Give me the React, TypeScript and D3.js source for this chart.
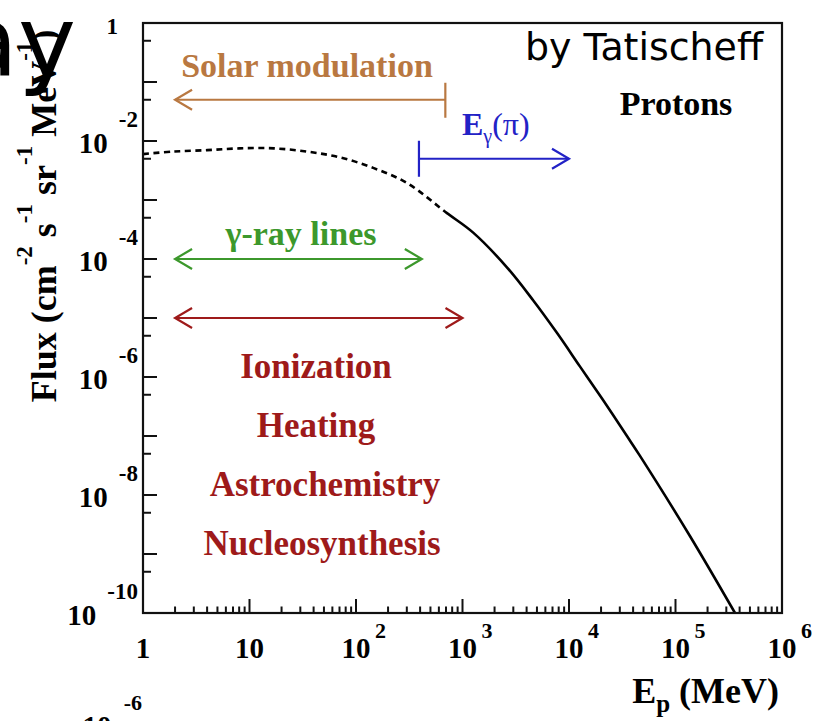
import React from "react";
import * as d3 from "d3";

// Proton flux: low-energy extrapolation (dashed) and measured part (solid)
const lowEnergy = [1, 1.9, 4, 8, 17, 35, 70, 145, 300, 715];
const lowFlux = [6.0e-3, 6.6e-3, 7.0e-3, 7.5e-3, 7.5e-3, 6.6e-3, 5.3e-3, 3.5e-3, 1.95e-3, 6.0e-4];
const highEnergy = [715, 1260, 2600, 4600, 7700, 12700, 20800, 35000, 46400, 137000, 362000];
const highFlux = [6.0e-4, 2.8e-4, 7.3e-5, 2.0e-5, 5.6e-6, 1.5e-6, 4.1e-7, 1.0e-7, 4.6e-8, 2.0e-9, 1.0e-10];

// Axis decades
const xExponents = [0, 1, 2, 3, 4, 5, 6];
const yExponents = [0, -1, -2, -3, -4, -5, -6, -7, -8, -9, -10];

// Energy ranges of the processes (MeV) and the flux level each arrow sits at
const solarRange = [2, 690];
const solarLevel = 5e-2;
const pionRange = [390, 1.0e4];
const pionLevel = 5e-3;
const linesRange = [2, 415];
const linesLevel = 1e-4;
const ionRange = [2, 1000];
const ionLevel = 1e-5;

const processLabels = ["Ionization", "Heating", "Astrochemistry", "Nucleosynthesis"];
const processLevels = [1e-6, 1e-7, 1e-8, 1e-9];
const processCenters = [316, 316, 325, 322];

const W = 817;
const H = 721;
const left = 143;
const right = 782;
const top = 23;
const bottom = 613;

const SERIF = "'Liberation Serif', 'Times New Roman', serif";
const SANS = "'Comic Sans MS', 'DejaVu Sans', sans-serif";

const BROWN = "#b97841";
const BLUE = "#2222c6";
const GREEN = "#3c982c";
const DARKRED = "#9e1a1a";

const xScale = d3.scaleLog().domain([1, 1e6]).range([left, right]);
const yScale = d3.scaleLog().domain([1e-10, 1]).range([bottom, top]);

const line = d3
  .line<[number, number]>()
  .x((d) => xScale(d[0]))
  .y((d) => yScale(d[1]))
  .curve(d3.curveCatmullRom.alpha(0.5));

function Chevron({ x, y, dir, color }: { x: number; y: number; dir: number; color: string }) {
  const bx = x - dir * 17;
  return (
    <path
      d={`M${bx},${y - 10}L${x},${y}L${bx},${y + 10}`}
      fill="none"
      stroke={color}
      strokeWidth={2.2}
    />
  );
}

export default function App() {
  // one smooth path through both parts; clipped into dashed / solid pieces
  const allPts = [
    ...lowEnergy.map((e, i) => [e, lowFlux[i]] as [number, number]),
    ...highEnergy.slice(1).map((e, i) => [e, highFlux[i + 1]] as [number, number]),
  ];
  const splitX = xScale(highEnergy[0]);
  const curveD = line(allPts) || "";

  const xMinor: number[] = [];
  for (let k = 0; k < 6; k++) {
    for (let m = 2; m <= 9; m++) xMinor.push(m * Math.pow(10, k));
  }
  const yMinor = yExponents.slice(1).map((k) => 5 * Math.pow(10, k));

  const sy = yScale(solarLevel);
  const py = yScale(pionLevel);
  const gy = yScale(linesLevel);
  const ry = yScale(ionLevel);

  return (
    <svg
      width={W}
      height={H}
      viewBox={`0 0 ${W} ${H}`}
      style={{ position: "absolute", left: 0, top: 0, background: "#fff" }}
    >
      <defs>
        <clipPath id="clip-extrap">
          <rect x={0} y={0} width={splitX} height={H} />
        </clipPath>
        <clipPath id="clip-measured">
          <rect x={splitX} y={0} width={W - splitX} height={bottom} />
        </clipPath>
      </defs>
      <rect x={0} y={0} width={W} height={H} fill="#fff" />

      {/* curve */}
      <path d={curveD} clipPath="url(#clip-extrap)" fill="none" stroke="#000" strokeWidth={2.6} strokeDasharray="6 4.5" />
      <path d={curveD} clipPath="url(#clip-measured)" fill="none" stroke="#000" strokeWidth={2.6} />

      {/* frame */}
      <rect x={left} y={top} width={right - left} height={bottom - top} fill="none" stroke="#111" strokeWidth={2.2} />

      {/* x ticks */}
      {xExponents.map((k) => (
        <line key={`xM${k}`} x1={xScale(Math.pow(10, k))} x2={xScale(Math.pow(10, k))} y1={bottom} y2={bottom - 14} stroke="#111" strokeWidth={2} />
      ))}
      {xMinor.map((v) => (
        <line key={`xm${v}`} x1={xScale(v)} x2={xScale(v)} y1={bottom} y2={bottom - 6.5} stroke="#111" strokeWidth={2} />
      ))}

      {/* y ticks */}
      {yExponents.map((k) => (
        <line key={`yM${k}`} x1={left} x2={left + 14} y1={yScale(Math.pow(10, k))} y2={yScale(Math.pow(10, k))} stroke="#111" strokeWidth={2} />
      ))}
      {yMinor.map((v) => (
        <line key={`ym${v}`} x1={left} x2={left + 8} y1={yScale(v)} y2={yScale(v)} stroke="#111" strokeWidth={2} />
      ))}

      {/* x tick labels */}
      <g fontFamily={SERIF} fontWeight="bold" fill="#000">
        {xExponents.map((k) => {
          const x = xScale(Math.pow(10, k));
          if (k === 0)
            return (
              <text key={`xl${k}`} x={x} y={658} fontSize={29} textAnchor="middle">1</text>
            );
          if (k === 1)
            return (
              <text key={`xl${k}`} x={x} y={658} fontSize={29} textAnchor="middle">10</text>
            );
          return (
            <g key={`xl${k}`}>
              <text x={x} y={658} fontSize={29} textAnchor="middle">10</text>
              <text x={x + 19} y={638} fontSize={22}>{k}</text>
            </g>
          );
        })}
      </g>

      {/* y tick labels */}
      <g fontFamily={SERIF} fontWeight="bold" fill="#000">
        {yExponents.filter((k) => k % 2 === 0).map((k) => {
          const y = yScale(Math.pow(10, k));
          if (k === 0)
            return (
              <text key={`yl${k}`} x={118} y={34} fontSize={23} textAnchor="end">1</text>
            );
          return (
            <text key={`yl${k}`} x={138} y={y + 12} fontSize={29} textAnchor="end">
              10
              <tspan dx={11} dy={-26} fontSize={23}>{`-${-k}`}</tspan>
            </text>
          );
        })}
      </g>

      {/* axis titles */}
      <text
        transform="translate(56, 216) rotate(-90)"
        textAnchor="middle"
        fontFamily={SERIF}
        fontWeight="bold"
        fontSize={36}
        fill="#000"
      >
        Flux (cm
        <tspan dy={-24} fontSize={23}>-2</tspan>
        <tspan dy={24}> s</tspan>
        <tspan dy={-24} fontSize={23}>-1</tspan>
        <tspan dy={24}> sr</tspan>
        <tspan dy={-24} fontSize={23}>-1</tspan>
        <tspan dy={24}> MeV</tspan>
        <tspan dy={-24} fontSize={23}>-1</tspan>
        <tspan dy={24}>)</tspan>
      </text>
      <text x={779} y={703} textAnchor="end" fontFamily={SERIF} fontWeight="bold" fontSize={36} fill="#000">
        E
        <tspan dy={9} fontSize={25}>p</tspan>
        <tspan dy={-9}> (MeV)</tspan>
      </text>

      {/* solar modulation */}
      <text x={307} y={77} textAnchor="middle" fontFamily={SERIF} fontWeight="bold" fontSize={34} fill={BROWN}>
        Solar modulation
      </text>
      <line x1={xScale(solarRange[0])} x2={xScale(solarRange[1])} y1={sy} y2={sy} stroke={BROWN} strokeWidth={2.2} />
      <line x1={xScale(solarRange[1])} x2={xScale(solarRange[1])} y1={sy - 17} y2={sy + 18} stroke={BROWN} strokeWidth={2.2} />
      <Chevron x={xScale(solarRange[0])} y={sy} dir={-1} color={BROWN} />

      {/* pion gamma rays */}
      <text x={462} y={135} fontFamily={SERIF} fontWeight="bold" fontSize={32} fill={BLUE}>
        E
        <tspan dy={8} fontSize={20} fontWeight="normal">γ</tspan>
        <tspan dy={-8} fontWeight="normal">(π)</tspan>
      </text>
      <line x1={xScale(pionRange[0])} x2={xScale(pionRange[1])} y1={py} y2={py} stroke={BLUE} strokeWidth={2.2} />
      <line x1={xScale(pionRange[0])} x2={xScale(pionRange[0])} y1={py - 18} y2={py + 18} stroke={BLUE} strokeWidth={2.2} />
      <Chevron x={xScale(pionRange[1])} y={py} dir={1} color={BLUE} />

      {/* gamma-ray lines */}
      <text x={301} y={245} textAnchor="middle" fontFamily={SERIF} fontWeight="bold" fontSize={34} fill={GREEN}>
        γ-ray lines
      </text>
      <line x1={xScale(linesRange[0])} x2={xScale(linesRange[1])} y1={gy} y2={gy} stroke={GREEN} strokeWidth={2.2} />
      <Chevron x={xScale(linesRange[0])} y={gy} dir={-1} color={GREEN} />
      <Chevron x={xScale(linesRange[1])} y={gy} dir={1} color={GREEN} />

      {/* ionization range */}
      <line x1={xScale(ionRange[0])} x2={xScale(ionRange[1])} y1={ry} y2={ry} stroke={DARKRED} strokeWidth={2.2} />
      <Chevron x={xScale(ionRange[0])} y={ry} dir={-1} color={DARKRED} />
      <Chevron x={xScale(ionRange[1])} y={ry} dir={1} color={DARKRED} />
      {processLabels.map((t, i) => (
        <text
          key={t}
          x={processCenters[i]}
          y={yScale(processLevels[i]) + 1}
          textAnchor="middle"
          fontFamily={SERIF}
          fontWeight="bold"
          fontSize={35}
          fill={DARKRED}
        >
          {t}
        </text>
      ))}

      <text x={676} y={115} textAnchor="middle" fontFamily={SERIF} fontWeight="bold" fontSize={34} fill="#000">
        Protons
      </text>

      <text x={525} y={60} fontFamily={SANS} fontSize={37} textLength={238} lengthAdjust="spacingAndGlyphs" fill="#000">
        by Tatischeff
      </text>

      {/* surrounding slide text */}
      <text x={76} y={76} textAnchor="end" fontFamily={SANS} fontSize={98} fill="#000">
        ay
      </text>
      <text x={142} y={710} textAnchor="end" fontFamily={SERIF} fontWeight="bold" fontSize={22} fill="#000">
        -6
      </text>
      <text x={97} y={736} textAnchor="middle" fontFamily={SERIF} fontWeight="bold" fontSize={29} fill="#000">
        10
      </text>
    </svg>
  );
}
